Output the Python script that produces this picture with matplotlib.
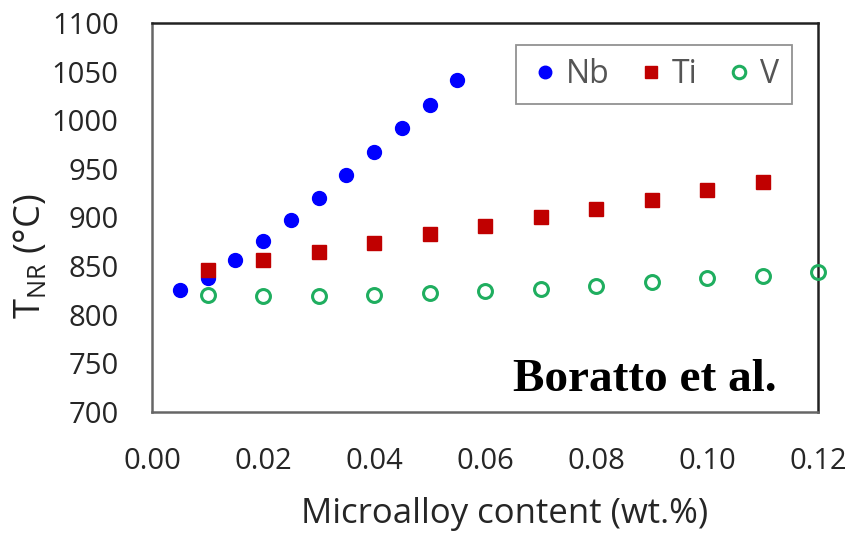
import matplotlib
matplotlib.use('Agg')
import matplotlib.pyplot as plt

# data
nb_x = [0.005, 0.010, 0.015, 0.020, 0.025, 0.030, 0.035, 0.040, 0.045, 0.050, 0.055]
nb_y = [825, 838, 856, 876, 897, 920, 944, 967, 992, 1016, 1041]

ti_x = [0.01, 0.02, 0.03, 0.04, 0.05, 0.06, 0.07, 0.08, 0.09, 0.10, 0.11]
ti_y = [846, 856, 864, 874, 883, 891, 901, 909, 918, 928, 936]

v_x = [0.01, 0.02, 0.03, 0.04, 0.05, 0.06, 0.07, 0.08, 0.09, 0.10, 0.11, 0.12]
v_y = [820, 819, 819, 820, 822, 824, 826, 830, 834, 838, 840, 844]

x_ticks = [0.00, 0.02, 0.04, 0.06, 0.08, 0.10, 0.12]
y_ticks = [700, 750, 800, 850, 900, 950, 1000, 1050, 1100]

plt.rcParams['font.family'] = ['Open Sans', 'DejaVu Sans']

fig = plt.figure(figsize=(8.54, 5.35), dpi=100)
ax = fig.add_axes([0.178, 0.230, 0.780, 0.727])

ax.plot(nb_x, nb_y, 'o', color='#0000FF', ms=10, label='Nb', clip_on=False, zorder=3)
ax.plot(ti_x, ti_y, 's', color='#C00000', ms=10, label='Ti', clip_on=False, zorder=4)
ax.plot(v_x, v_y, 'o', mfc='none', mec='#1FAE5F', mew=2.2, ms=10, label='V', clip_on=False, zorder=5)

ax.set_xlim(0, 0.12)
ax.set_ylim(700, 1100)
ax.set_xticks(x_ticks)
ax.set_xticklabels(['%.2f' % t for t in x_ticks])
ax.set_yticks(y_ticks)
ax.tick_params(length=0, labelsize=21, colors='#262626', pad=24)
ax.tick_params(axis='x', pad=25)
for s in ax.spines.values():
    s.set_color('#222222')
    s.set_linewidth(1.8)
ax.spines['left'].set_color('#666666')
ax.spines['bottom'].set_color('#666666')

leg = ax.legend(ncol=3, loc='upper right', bbox_to_anchor=(0.97, 0.96), fontsize=23,
                frameon=True, fancybox=False, handletextpad=0.15, columnspacing=0.8,
                handlelength=1.0, borderpad=0.4, borderaxespad=0.2, markerscale=0.9)
leg.get_frame().set_edgecolor('#777777')
leg.get_frame().set_linewidth(1.3)
for t in leg.get_texts():
    t.set_color('#555555')

ax.text(0.937, 0.055, 'Boratto et al.', transform=ax.transAxes, ha='right', va='baseline',
        fontsize=34, fontweight='bold', family='Liberation Serif')

fig.text(505 / 854, 1 - 523 / 535, 'Microalloy content (wt.%)', ha='center', va='baseline',
         fontsize=25, color='#262626')
fig.text(31 / 854, 1 - 256 / 535, 'T$_{\\mathregular{NR}}$ (°C)', ha='center', va='center',
         rotation=90, fontsize=26, color='#222222')

fig.savefig('out.png', dpi=100)
